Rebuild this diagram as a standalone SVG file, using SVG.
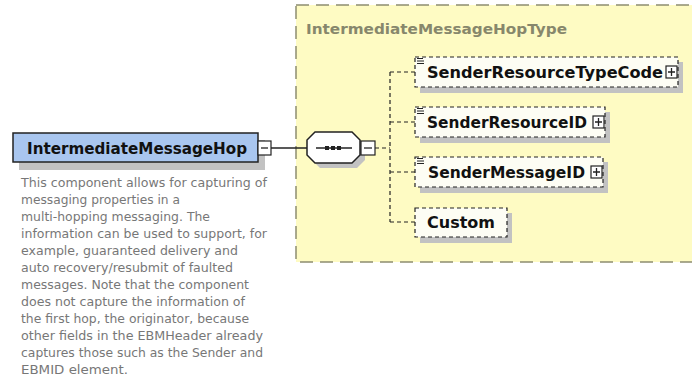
<svg xmlns="http://www.w3.org/2000/svg" width="692" height="378" viewBox="0 0 692 378">
<defs>
<style>
.lbl{font-family:"DejaVu Sans","Verdana",sans-serif;font-weight:bold;fill:#111;}
.desc{font-family:"DejaVu Sans","Verdana",sans-serif;font-size:11.5px;fill:#777;}
.dash{fill:none;stroke:#222;stroke-width:1.2;stroke-dasharray:4 3;}
.child{fill:#fdfdf4;stroke:#222;stroke-width:1.2;stroke-dasharray:4 3;}
.shadow{fill:#c2c2c2;}
.btn{fill:#fff;stroke:#222;stroke-width:1.2;}
.sign{stroke:#222;stroke-width:1.3;fill:none;}
</style>
</defs>
<rect width="692" height="378" fill="#ffffff"/>

<g id="type-box">
<rect x="296" y="5" width="420" height="257" fill="#fefbc3" stroke="#8d8d70" stroke-width="1.5" stroke-dasharray="13 7"/>
<text x="306" y="34" class="lbl" font-size="14" fill="#87876c" style="fill:#87876c" textLength="261" lengthAdjust="spacingAndGlyphs">IntermediateMessageHopType</text>
</g>

<g id="connectors">
<line x1="271" y1="148" x2="307" y2="148" stroke="#222" stroke-width="1.3"/>
<line x1="375" y1="148" x2="390" y2="148" class="dash"/>
<line x1="390" y1="72" x2="390" y2="222" class="dash"/>
<line x1="390" y1="72" x2="415" y2="72" class="dash"/>
<line x1="390" y1="122" x2="415" y2="122" class="dash"/>
<line x1="390" y1="172" x2="415" y2="172" class="dash"/>
<line x1="390" y1="222" x2="415" y2="222" class="dash"/>
</g>

<g id="IntermediateMessageHop">
<rect x="19" y="140" width="246" height="30" class="shadow"/>
<rect x="13" y="133" width="245" height="29" fill="#a9c6ef" stroke="#222" stroke-width="1.5"/>
<text x="27" y="154" class="lbl" font-size="15" textLength="220" lengthAdjust="spacingAndGlyphs">IntermediateMessageHop</text>
<rect x="258" y="141" width="13" height="14" class="btn"/>
<line x1="261" y1="148" x2="268" y2="148" class="sign"/>
<g class="desc">
<text x="21" y="187" textLength="246" lengthAdjust="spacingAndGlyphs">This component allows for capturing of</text>
<text x="21" y="204" textLength="159" lengthAdjust="spacingAndGlyphs">messaging properties in a</text>
<text x="21" y="221" textLength="189" lengthAdjust="spacingAndGlyphs">multi-hopping messaging. The</text>
<text x="21" y="238" textLength="246" lengthAdjust="spacingAndGlyphs">information can be used to support, for</text>
<text x="21" y="255" textLength="217" lengthAdjust="spacingAndGlyphs">example, guaranteed delivery and</text>
<text x="21" y="272" textLength="212" lengthAdjust="spacingAndGlyphs">auto recovery/resubmit of faulted</text>
<text x="21" y="289" textLength="228" lengthAdjust="spacingAndGlyphs">messages. Note that the component</text>
<text x="21" y="306" textLength="224" lengthAdjust="spacingAndGlyphs">does not capture the information of</text>
<text x="21" y="323" textLength="228" lengthAdjust="spacingAndGlyphs">the first hop, the originator, because</text>
<text x="21" y="340" textLength="242" lengthAdjust="spacingAndGlyphs">other fields in the EBMHeader already</text>
<text x="21" y="357" textLength="242" lengthAdjust="spacingAndGlyphs">captures those such as the Sender and</text>
<text x="21" y="374" textLength="107" lengthAdjust="spacingAndGlyphs">EBMID element.</text>
</g>
</g>

<g id="sequence">
<polygon points="320,137 357,137 365,145 365,160 357,168 320,168 312,160 312,145" class="shadow"/>
<polygon points="315,132 352,132 360,140 360,155 352,163 315,163 307,155 307,140" fill="#fff" stroke="#222" stroke-width="1.5"/>
<line x1="316" y1="148" x2="352" y2="148" stroke="#222" stroke-width="1.3"/>
<rect x="325" y="146" width="4" height="4" fill="#222"/>
<rect x="331" y="146" width="4" height="4" fill="#222"/>
<rect x="337" y="146" width="4" height="4" fill="#222"/>
<rect x="361" y="141" width="14" height="14" class="btn"/>
<line x1="364" y1="148" x2="372" y2="148" class="sign"/>
</g>

<g id="SenderResourceTypeCode">
<rect x="420" y="62" width="263" height="31" class="shadow"/>
<rect x="415" y="57" width="263" height="30" class="child"/>
<path d="M417 58.5h6M417 61h7M417 63.5h7" stroke="#222" stroke-width="1"/>
<text x="427" y="78" class="lbl" font-size="15.5" textLength="236" lengthAdjust="spacingAndGlyphs">SenderResourceTypeCode</text>
<rect x="666" y="66" width="11" height="12" class="btn"/>
<path d="M668 72h7M671.5 68v8" class="sign"/>
</g>

<g id="SenderResourceID">
<rect x="420" y="112" width="190" height="31" class="shadow"/>
<rect x="415" y="107" width="190" height="30" class="child"/>
<path d="M417 108.5h6M417 111h7M417 113.5h7" stroke="#222" stroke-width="1"/>
<text x="427" y="128" class="lbl" font-size="15.5" textLength="160" lengthAdjust="spacingAndGlyphs">SenderResourceID</text>
<rect x="593" y="116" width="11" height="12" class="btn"/>
<path d="M595 122h7M598.5 118v8" class="sign"/>
</g>

<g id="SenderMessageID">
<rect x="420" y="162" width="188" height="31" class="shadow"/>
<rect x="415" y="157" width="188" height="30" class="child"/>
<path d="M417 158.5h6M417 161h7M417 163.5h7" stroke="#222" stroke-width="1"/>
<text x="428" y="178" class="lbl" font-size="15.5" textLength="157" lengthAdjust="spacingAndGlyphs">SenderMessageID</text>
<rect x="591" y="166" width="11" height="12" class="btn"/>
<path d="M593 172h7M596.5 168v8" class="sign"/>
</g>

<g id="Custom">
<rect x="420" y="213" width="92" height="30" class="shadow"/>
<rect x="415" y="208" width="92" height="29" class="child"/>
<text x="427" y="228" class="lbl" font-size="15.5" textLength="68" lengthAdjust="spacingAndGlyphs">Custom</text>
</g>
</svg>
